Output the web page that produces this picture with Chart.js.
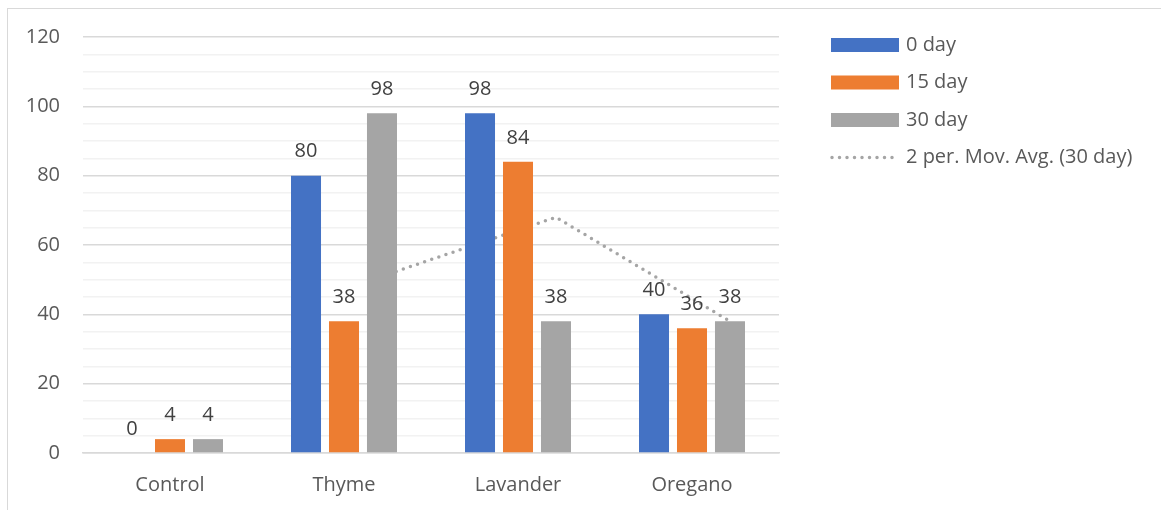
<!DOCTYPE html>
<html>
<head>
<meta charset="utf-8">
<script src="https://cdn.jsdelivr.net/npm/chart.js@4"></script>
<style>
  body { margin: 0; background: #fff; }
  #wrap { position: relative; width: 1161px; height: 510px; }
  #frame { position: absolute; left: 7px; top: 8px; width: 1200px; height: 600px;
           border-left: 1px solid #D9D9D9; border-top: 1px solid #D9D9D9; }
  canvas { position: absolute; left: 0; top: 0; }
</style>
</head>
<body>
<div id="wrap">
  <div id="frame"></div>
  <canvas id="chart" width="1161" height="510"></canvas>
</div>
<script>
// Data
const categories = ['Control', 'Thyme', 'Lavander', 'Oregano'];
const day0 = [0, 80, 98, 40];
const day15 = [4, 38, 84, 36];
const day30 = [4, 98, 38, 38];
const movAvg30 = [null, 51, 68, 38]; // 2 per. moving average of 30 day

// Colors
const blue = '#4472C4';
const orange = '#ED7D31';
const gray = '#A5A5A5';
const textColor = '#595959';
const fontFamily = "'Open Sans', sans-serif";
const fontSize = 20;

// put the moving-average points on top of the 30 day bars
const alignTrendline = {
    id: 'alignTrendline',
    afterDatasetsUpdate(chart) {
        const barMeta = chart.getDatasetMeta(2);
        const lineMeta = chart.getDatasetMeta(3);
        lineMeta.data.forEach((pt, i) => {
            if (barMeta.data[i]) pt.x = barMeta.data[i].x;
        });
    }
};

// value labels above the bars
const barLabels = {
    id: 'barLabels',
    afterDatasetsDraw(chart) {
        const ctx = chart.ctx;
        ctx.save();
        ctx.font = fontSize + 'px ' + fontFamily;
        ctx.fillStyle = '#404040';
        ctx.textAlign = 'center';
        ctx.textBaseline = 'middle';
        [0, 1, 2].forEach(di => {
            const meta = chart.getDatasetMeta(di);
            meta.data.forEach((bar, i) => {
                ctx.fillText(String(chart.data.datasets[di].data[i]), bar.x, bar.y - 24);
            });
        });
        ctx.restore();
    }
};

// legend on the right, Excel style (the built-in one gets squeezed to a quarter width)
const sideLegend = {
    id: 'sideLegend',
    afterDraw(chart) {
        const ctx = chart.ctx;
        const left = chart.chartArea.right + 52;
        const boxW = 68, boxH = 14, step = 37.5;
        let y = 45;
        ctx.save();
        ctx.font = fontSize + 'px ' + fontFamily;
        ctx.textBaseline = 'middle';
        ctx.textAlign = 'left';
        chart.data.datasets.forEach(ds => {
            if (ds.type === 'line') {
                ctx.strokeStyle = ds.borderColor;
                ctx.lineWidth = ds.borderWidth;
                ctx.lineCap = 'round';
                ctx.setLineDash(ds.borderDash);
                ctx.beginPath();
                ctx.moveTo(left + 1, y);
                ctx.lineTo(left + boxW, y);
                ctx.stroke();
                ctx.setLineDash([]);
            } else {
                ctx.fillStyle = ds.backgroundColor;
                ctx.fillRect(left, y - boxH / 2, boxW, boxH);
            }
            ctx.fillStyle = textColor;
            ctx.fillText(ds.label, left + boxW + 7, y);
            y += step;
        });
        ctx.restore();
    }
};

new Chart(document.getElementById('chart'), {
    type: 'bar',
    data: {
        labels: categories,
        datasets: [
            { label: '0 day', data: day0, backgroundColor: blue, order: 0 },
            { label: '15 day', data: day15, backgroundColor: orange, order: 0 },
            { label: '30 day', data: day30, backgroundColor: gray, order: 0 },
            {
                type: 'line',
                label: '2 per. Mov. Avg. (30 day)',
                data: movAvg30,
                borderColor: gray,
                backgroundColor: gray,
                borderWidth: 3.5,
                borderDash: [0, 7.5],
                borderCapStyle: 'round',
                pointRadius: 0,
                fill: false,
                tension: 0,
                order: 1
            }
        ]
    },
    options: {
        responsive: false,
        animation: false,
        layout: { padding: { left: 8, right: 382, top: 15, bottom: 14 } },
        datasets: {
            bar: { categoryPercentage: 0.655, barPercentage: 0.79, borderWidth: 0 }
        },
        plugins: {
            legend: { display: false },
            tooltip: { enabled: false }
        },
        scales: {
            x: {
                grid: { display: false, drawTicks: false },
                border: { color: '#D9D9D9', width: 1.5 },
                ticks: { color: textColor, padding: 20, font: { family: fontFamily, size: fontSize } },
                afterFit: scale => { scale.height = 43; }
            },
            y: {
                min: 0,
                max: 120,
                border: { display: false },
                grid: {
                    drawTicks: false,
                    color: c => (c.tick && c.tick.value % 20 === 0) ? '#D9D9D9' : '#F2F2F2',
                    lineWidth: 1.5
                },
                ticks: {
                    stepSize: 5,
                    autoSkip: false,
                    padding: 23,
                    color: textColor,
                    font: { family: fontFamily, size: fontSize },
                    callback: v => (v % 20 === 0 ? v : '')
                },
                afterFit: scale => { scale.width = 75; scale.paddingTop = 37; }
            }
        }
    },
    plugins: [alignTrendline, barLabels, sideLegend]
});
</script>
</body>
</html>
